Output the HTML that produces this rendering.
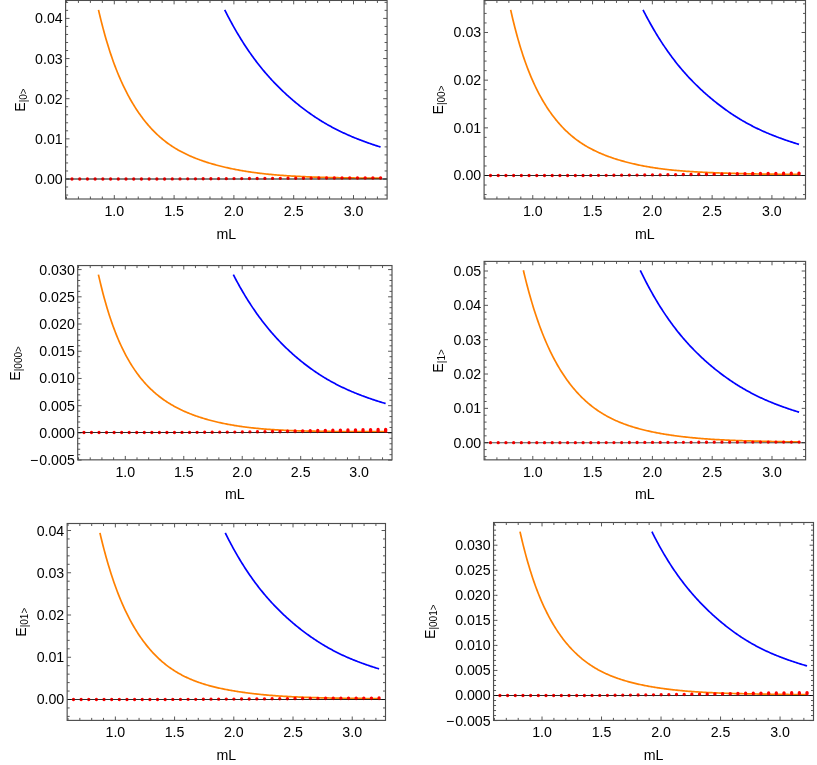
<!DOCTYPE html>
<html><head><meta charset="utf-8"><title>plots</title>
<style>
html,body{margin:0;padding:0;background:#fff;}
body{width:817px;height:765px;overflow:hidden;}
svg{display:block;will-change:transform;}
text{font-family:"Liberation Sans",sans-serif;fill:#000;}
</style></head><body>
<svg width="817" height="765" viewBox="0 0 817 765">

<g>
<path d="M66.46 199v-2.5M66.46 0.45v2.5M78.42 199v-2.5M78.42 0.45v2.5M90.38 199v-2.5M90.38 0.45v2.5M102.34 199v-2.5M102.34 0.45v2.5M114.3 199v-3.9M114.3 0.45v3.9M126.26 199v-2.5M126.26 0.45v2.5M138.22 199v-2.5M138.22 0.45v2.5M150.18 199v-2.5M150.18 0.45v2.5M162.14 199v-2.5M162.14 0.45v2.5M174.1 199v-3.9M174.1 0.45v3.9M186.06 199v-2.5M186.06 0.45v2.5M198.02 199v-2.5M198.02 0.45v2.5M209.98 199v-2.5M209.98 0.45v2.5M221.94 199v-2.5M221.94 0.45v2.5M233.9 199v-3.9M233.9 0.45v3.9M245.86 199v-2.5M245.86 0.45v2.5M257.82 199v-2.5M257.82 0.45v2.5M269.78 199v-2.5M269.78 0.45v2.5M281.74 199v-2.5M281.74 0.45v2.5M293.7 199v-3.9M293.7 0.45v3.9M305.66 199v-2.5M305.66 0.45v2.5M317.62 199v-2.5M317.62 0.45v2.5M329.58 199v-2.5M329.58 0.45v2.5M341.54 199v-2.5M341.54 0.45v2.5M353.5 199v-3.9M353.5 0.45v3.9M365.46 199v-2.5M365.46 0.45v2.5M377.42 199v-2.5M377.42 0.45v2.5M65.6 195.06h2.5M387.1 195.06h-2.5M65.6 187.03h2.5M387.1 187.03h-2.5M65.6 179h3.9M387.1 179h-3.9M65.6 170.97h2.5M387.1 170.97h-2.5M65.6 162.94h2.5M387.1 162.94h-2.5M65.6 154.91h2.5M387.1 154.91h-2.5M65.6 146.88h2.5M387.1 146.88h-2.5M65.6 138.85h3.9M387.1 138.85h-3.9M65.6 130.82h2.5M387.1 130.82h-2.5M65.6 122.79h2.5M387.1 122.79h-2.5M65.6 114.76h2.5M387.1 114.76h-2.5M65.6 106.73h2.5M387.1 106.73h-2.5M65.6 98.7h3.9M387.1 98.7h-3.9M65.6 90.67h2.5M387.1 90.67h-2.5M65.6 82.64h2.5M387.1 82.64h-2.5M65.6 74.61h2.5M387.1 74.61h-2.5M65.6 66.58h2.5M387.1 66.58h-2.5M65.6 58.55h3.9M387.1 58.55h-3.9M65.6 50.52h2.5M387.1 50.52h-2.5M65.6 42.49h2.5M387.1 42.49h-2.5M65.6 34.46h2.5M387.1 34.46h-2.5M65.6 26.43h2.5M387.1 26.43h-2.5M65.6 18.4h3.9M387.1 18.4h-3.9M65.6 10.37h2.5M387.1 10.37h-2.5M65.6 2.34h2.5M387.1 2.34h-2.5" stroke="#444" stroke-width="0.9" fill="none"/>
<path d="M98.5 9.85 99 12.08 100 16.28 101 20.36 102 24.3 103 28.13 104 31.84 105 35.44 106 38.93 107 42.31 108 45.6 109 48.79 110 51.89 111 54.89 112 57.82 113 60.66 114 63.42 115 66.1 116 68.71 117 71.24 118 73.71 119 76.11 120 78.45 121 80.72 122 82.94 123 85.09 124 87.19 125 89.24 126 91.24 127 93.18 128 95.08 129 96.93 130 98.73 131 100.49 132 102.21 133 103.89 134 105.52 135 107.12 136 108.69 137 110.21 138 111.7 139 113.16 140 114.58 141 115.97 142 117.33 143 118.65 144 119.95 145 121.22 146 122.45 147 123.66 148 124.85 149 126 150 127.13 151 128.23 152 129.31 153 130.36 154 131.38 155 132.39 156 133.36 157 134.32 158 135.25 159 136.16 160 137.05 161 137.92 162 138.77 163 139.59 164 140.4 165 141.19 166 141.96 167 142.71 168 143.44 169 144.16 170 144.86 171 145.54 172 146.2 173 146.86 174 147.49 175 148.11 176 148.72 177 149.31 178 149.89 179 150.46 180 151.02 181 151.56 182 152.09 183 152.61 184 153.11 185 153.61 186 154.1 187 154.57 188 155.04 189 155.49 190 155.94 191 156.38 192 156.81 193 157.23 194 157.64 195 158.04 196 158.44 197 158.82 198 159.2 199 159.58 200 159.94 201 160.3 202 160.65 203 161 204 161.34 205 161.67 206 162 207 162.32 208 162.63 209 162.94 210 163.25 211 163.54 212 163.84 213 164.13 214 164.41 215 164.69 216 164.96 217 165.23 218 165.5 219 165.76 220 166.01 221 166.26 222 166.51 223 166.75 224 166.99 225 167.23 226 167.46 227 167.69 228 167.91 229 168.13 230 168.35 231 168.56 232 168.77 233 168.97 234 169.17 235 169.37 236 169.57 237 169.76 238 169.95 239 170.13 240 170.31 241 170.49 242 170.66 243 170.83 244 171 245 171.17 246 171.33 247 171.49 248 171.64 249 171.8 250 171.94 251 172.09 252 172.24 253 172.38 254 172.52 255 172.65 256 172.78 257 172.91 258 173.04 259 173.17 260 173.29 261 173.41 262 173.53 263 173.64 264 173.75 265 173.86 266 173.97 267 174.08 268 174.18 269 174.28 270 174.38 271 174.47 272 174.57 273 174.66 274 174.75 275 174.84 276 174.92 277 175.01 278 175.09 279 175.17 280 175.24 281 175.32 282 175.39 283 175.47 284 175.54 285 175.61 286 175.67 287 175.74 288 175.8 289 175.87 290 175.93 291 175.99 292 176.05 293 176.1 294 176.16 295 176.22 296 176.27 297 176.32 298 176.37 299 176.42 300 176.47 301 176.52 302 176.57 303 176.61 304 176.66 305 176.7 306 176.75 307 176.79 308 176.83 309 176.87 310 176.91 311 176.95 312 176.99 313 177.02 314 177.06 315 177.09 316 177.13 317 177.16 318 177.2 319 177.23 320 177.26 321 177.29 322 177.32 323 177.35 324 177.38 325 177.41 326 177.44 327 177.46 328 177.49 329 177.52 330 177.54 331 177.57 332 177.59 333 177.62 334 177.64 335 177.66 336 177.68 337 177.7 338 177.72 339 177.74 340 177.76 341 177.78 342 177.8 343 177.82 344 177.84 345 177.85 346 177.87 347 177.88 348 177.9 349 177.91 350 177.93 351 177.94 352 177.95 353 177.96 354 177.97 355 177.98 356 177.99 357 178 358 178.01 359 178.02 360 178.02 361 178.03 362 178.04 363 178.04 364 178.05 365 178.05 366 178.06 367 178.06 368 178.06 369 178.07 370 178.07 371 178.07 372 178.08 373 178.08 374 178.08 375 178.08 376 178.09 377 178.09 378 178.09 379 178.1 380 178.1 380.6 178.1" stroke="#ff8000" stroke-width="1.7" fill="none" stroke-linejoin="round"/>
<path d="M224.71 9.85 226 12.44 227 14.39 228 16.32 229 18.22 230 20.1 231 21.95 232 23.78 233 25.58 234 27.36 235 29.12 236 30.85 237 32.56 238 34.25 239 35.92 240 37.56 241 39.19 242 40.79 243 42.37 244 43.93 245 45.47 246 46.99 247 48.49 248 49.97 249 51.43 250 52.87 251 54.29 252 55.7 253 57.08 254 58.45 255 59.8 256 61.13 257 62.44 258 63.73 259 65.01 260 66.27 261 67.52 262 68.75 263 69.96 264 71.16 265 72.34 266 73.51 267 74.66 268 75.8 269 76.92 270 78.03 271 79.13 272 80.21 273 81.28 274 82.33 275 83.38 276 84.41 277 85.43 278 86.44 279 87.43 280 88.42 281 89.39 282 90.36 283 91.31 284 92.25 285 93.19 286 94.11 287 95.02 288 95.92 289 96.82 290 97.7 291 98.57 292 99.44 293 100.29 294 101.14 295 101.98 296 102.81 297 103.63 298 104.44 299 105.24 300 106.04 301 106.83 302 107.6 303 108.37 304 109.13 305 109.89 306 110.63 307 111.36 308 112.09 309 112.81 310 113.52 311 114.22 312 114.92 313 115.6 314 116.28 315 116.95 316 117.61 317 118.26 318 118.91 319 119.55 320 120.18 321 120.8 322 121.41 323 122.02 324 122.62 325 123.21 326 123.79 327 124.37 328 124.94 329 125.5 330 126.06 331 126.61 332 127.15 333 127.68 334 128.21 335 128.73 336 129.24 337 129.75 338 130.26 339 130.75 340 131.24 341 131.72 342 132.2 343 132.67 344 133.14 345 133.6 346 134.06 347 134.51 348 134.95 349 135.39 350 135.82 351 136.25 352 136.68 353 137.1 354 137.51 355 137.92 356 138.32 357 138.73 358 139.12 359 139.51 360 139.9 361 140.28 362 140.66 363 141.04 364 141.41 365 141.78 366 142.14 367 142.5 368 142.86 369 143.21 370 143.56 371 143.91 372 144.25 373 144.59 374 144.92 375 145.25 376 145.58 377 145.91 378 146.23 379 146.55 380 146.86 380.6 147.05" stroke="#0000ff" stroke-width="1.7" fill="none" stroke-linejoin="round"/>
<path d="M65.6 179H387.1" stroke="#000" stroke-opacity="0.72" stroke-width="1.1" fill="none"/>
<path d="M72 179v-0.01M79.72 179v-0.01M87.43 179v-0.01M95.14 179v-0.01M102.86 179v-0.01M110.58 179v-0.01M118.29 179v-0.01M126 179v-0.01M133.72 179v-0.01M141.44 179v-0.01M149.15 179v-0.01M156.87 179v-0.01M164.58 178.98v-0.01M172.3 178.94v-0.01M180.01 178.9v-0.01M187.72 178.86v-0.01M195.44 178.82v-0.01M203.16 178.78v-0.01M210.87 178.74v-0.01M218.59 178.69v-0.01M226.3 178.65v-0.01M234.01 178.61v-0.01M241.73 178.57v-0.02M249.44 178.53v-0.03M257.16 178.49v-0.04M264.88 178.45v-0.06M272.59 178.4v-0.07M280.31 178.36v-0.08M288.02 178.32v-0.1M295.74 178.28v-0.11M303.45 178.24v-0.13M311.16 178.2v-0.14M318.88 178.16v-0.16M326.6 178.11v-0.17M334.31 178.1v-0.19M342.02 178.1v-0.21M349.74 178.1v-0.23M357.45 178.1v-0.24M365.17 178.1v-0.26M372.88 178.1v-0.28M380.6 178.1v-0.3" stroke="#ff0000" stroke-width="3.3" stroke-linecap="round" fill="none"/>
<path d="M65.6 179H387.1" stroke="#000" stroke-opacity="0.4" stroke-width="1.1" fill="none"/>
<rect x="65.6" y="0.45" width="321.5" height="198.55" fill="none" stroke="#4d4d4d" stroke-width="1.15"/>
<text x="62.7" y="184" font-size="14.2" text-anchor="end">0.00</text>
<text x="62.7" y="144" font-size="14.2" text-anchor="end">0.01</text>
<text x="62.7" y="104" font-size="14.2" text-anchor="end">0.02</text>
<text x="62.7" y="64" font-size="14.2" text-anchor="end">0.03</text>
<text x="62.7" y="23" font-size="14.2" text-anchor="end">0.04</text>
<text x="114.3" y="215.7" font-size="14.2" text-anchor="middle">1.0</text>
<text x="174.1" y="215.7" font-size="14.2" text-anchor="middle">1.5</text>
<text x="233.9" y="215.7" font-size="14.2" text-anchor="middle">2.0</text>
<text x="293.7" y="215.7" font-size="14.2" text-anchor="middle">2.5</text>
<text x="353.5" y="215.7" font-size="14.2" text-anchor="middle">3.0</text>
<text x="226.35" y="238.6" font-size="14.2" text-anchor="middle">mL</text>
<g transform="translate(24.67 100.02) rotate(-90)"><text x="-11.74" y="0" font-size="14.2">E<tspan font-size="10" dy="1.9">|0&gt;</tspan></text></g>
</g>
<g>
<path d="M484.96 199v-2.5M484.96 0.45v2.5M496.92 199v-2.5M496.92 0.45v2.5M508.87 199v-2.5M508.87 0.45v2.5M520.83 199v-2.5M520.83 0.45v2.5M532.78 199v-3.9M532.78 0.45v3.9M544.74 199v-2.5M544.74 0.45v2.5M556.7 199v-2.5M556.7 0.45v2.5M568.65 199v-2.5M568.65 0.45v2.5M580.61 199v-2.5M580.61 0.45v2.5M592.57 199v-3.9M592.57 0.45v3.9M604.52 199v-2.5M604.52 0.45v2.5M616.48 199v-2.5M616.48 0.45v2.5M628.44 199v-2.5M628.44 0.45v2.5M640.39 199v-2.5M640.39 0.45v2.5M652.35 199v-3.9M652.35 0.45v3.9M664.3 199v-2.5M664.3 0.45v2.5M676.26 199v-2.5M676.26 0.45v2.5M688.22 199v-2.5M688.22 0.45v2.5M700.17 199v-2.5M700.17 0.45v2.5M712.13 199v-3.9M712.13 0.45v3.9M724.09 199v-2.5M724.09 0.45v2.5M736.04 199v-2.5M736.04 0.45v2.5M748 199v-2.5M748 0.45v2.5M759.95 199v-2.5M759.95 0.45v2.5M771.91 199v-3.9M771.91 0.45v3.9M783.87 199v-2.5M783.87 0.45v2.5M795.82 199v-2.5M795.82 0.45v2.5M484.1 194.57h2.5M805.5 194.57h-2.5M484.1 185.03h2.5M805.5 185.03h-2.5M484.1 175.5h3.9M805.5 175.5h-3.9M484.1 165.97h2.5M805.5 165.97h-2.5M484.1 156.43h2.5M805.5 156.43h-2.5M484.1 146.9h2.5M805.5 146.9h-2.5M484.1 137.36h2.5M805.5 137.36h-2.5M484.1 127.83h3.9M805.5 127.83h-3.9M484.1 118.3h2.5M805.5 118.3h-2.5M484.1 108.76h2.5M805.5 108.76h-2.5M484.1 99.23h2.5M805.5 99.23h-2.5M484.1 89.69h2.5M805.5 89.69h-2.5M484.1 80.16h3.9M805.5 80.16h-3.9M484.1 70.63h2.5M805.5 70.63h-2.5M484.1 61.09h2.5M805.5 61.09h-2.5M484.1 51.56h2.5M805.5 51.56h-2.5M484.1 42.02h2.5M805.5 42.02h-2.5M484.1 32.49h3.9M805.5 32.49h-3.9M484.1 22.96h2.5M805.5 22.96h-2.5M484.1 13.42h2.5M805.5 13.42h-2.5M484.1 3.89h2.5M805.5 3.89h-2.5" stroke="#444" stroke-width="0.9" fill="none"/>
<path d="M510.66 9.85 511 11.41 512 15.77 513 19.99 514 24.07 515 28.02 516 31.84 517 35.54 518 39.12 519 42.58 520 45.94 521 49.19 522 52.35 523 55.4 524 58.37 525 61.24 526 64.03 527 66.74 528 69.37 529 71.91 530 74.39 531 76.8 532 79.13 533 81.4 534 83.61 535 85.76 536 87.84 537 89.87 538 91.85 539 93.77 540 95.64 541 97.46 542 99.23 543 100.96 544 102.65 545 104.29 546 105.88 547 107.44 548 108.96 549 110.44 550 111.89 551 113.3 552 114.67 553 116.01 554 117.32 555 118.6 556 119.85 557 121.06 558 122.25 559 123.41 560 124.54 561 125.64 562 126.72 563 127.77 564 128.79 565 129.79 566 130.77 567 131.72 568 132.65 569 133.56 570 134.44 571 135.31 572 136.15 573 136.97 574 137.78 575 138.56 576 139.32 577 140.07 578 140.8 579 141.51 580 142.2 581 142.88 582 143.54 583 144.19 584 144.82 585 145.43 586 146.03 587 146.62 588 147.19 589 147.75 590 148.3 591 148.84 592 149.36 593 149.87 594 150.37 595 150.86 596 151.34 597 151.81 598 152.26 599 152.71 600 153.15 601 153.58 602 154 603 154.41 604 154.81 605 155.2 606 155.59 607 155.97 608 156.34 609 156.71 610 157.06 611 157.41 612 157.76 613 158.09 614 158.43 615 158.75 616 159.07 617 159.38 618 159.69 619 159.99 620 160.29 621 160.58 622 160.87 623 161.15 624 161.43 625 161.7 626 161.97 627 162.23 628 162.49 629 162.75 630 162.99 631 163.24 632 163.48 633 163.72 634 163.95 635 164.18 636 164.4 637 164.62 638 164.84 639 165.05 640 165.26 641 165.46 642 165.66 643 165.85 644 166.05 645 166.24 646 166.42 647 166.6 648 166.78 649 166.95 650 167.12 651 167.29 652 167.45 653 167.61 654 167.77 655 167.92 656 168.07 657 168.21 658 168.36 659 168.49 660 168.63 661 168.76 662 168.89 663 169.02 664 169.14 665 169.26 666 169.38 667 169.5 668 169.61 669 169.72 670 169.82 671 169.93 672 170.03 673 170.13 674 170.23 675 170.32 676 170.41 677 170.5 678 170.59 679 170.68 680 170.76 681 170.84 682 170.92 683 171 684 171.08 685 171.15 686 171.23 687 171.3 688 171.37 689 171.44 690 171.5 691 171.57 692 171.63 693 171.7 694 171.76 695 171.82 696 171.88 697 171.94 698 171.99 699 172.05 700 172.1 701 172.16 702 172.21 703 172.26 704 172.31 705 172.36 706 172.41 707 172.45 708 172.5 709 172.54 710 172.59 711 172.63 712 172.67 713 172.72 714 172.76 715 172.8 716 172.84 717 172.87 718 172.91 719 172.95 720 172.99 721 173.02 722 173.06 723 173.09 724 173.13 725 173.16 726 173.19 727 173.22 728 173.26 729 173.29 730 173.32 731 173.35 732 173.38 733 173.41 734 173.44 735 173.47 736 173.49 737 173.52 738 173.55 739 173.57 740 173.6 741 173.63 742 173.65 743 173.68 744 173.7 745 173.73 746 173.75 747 173.77 748 173.8 749 173.82 750 173.84 751 173.86 752 173.88 753 173.91 754 173.93 755 173.95 756 173.97 757 173.98 758 174 759 174.02 760 174.04 761 174.06 762 174.07 763 174.09 764 174.1 765 174.12 766 174.13 767 174.14 768 174.16 769 174.17 770 174.18 771 174.19 772 174.2 773 174.21 774 174.21 775 174.22 776 174.23 777 174.23 778 174.24 779 174.24 780 174.25 781 174.25 782 174.26 783 174.26 784 174.26 785 174.27 786 174.27 787 174.27 788 174.28 789 174.28 790 174.28 791 174.29 792 174.29 793 174.29 794 174.3 795 174.3 796 174.31 797 174.31 798 174.32 799 174.32 799 174.32" stroke="#ff8000" stroke-width="1.7" fill="none" stroke-linejoin="round"/>
<path d="M643.05 9.85 644 11.76 645 13.69 646 15.6 647 17.48 648 19.34 649 21.17 650 22.98 651 24.76 652 26.52 653 28.26 654 29.97 655 31.66 656 33.33 657 34.98 658 36.6 659 38.2 660 39.78 661 41.35 662 42.89 663 44.41 664 45.9 665 47.38 666 48.84 667 50.28 668 51.71 669 53.11 670 54.49 671 55.86 672 57.2 673 58.53 674 59.84 675 61.14 676 62.41 677 63.67 678 64.91 679 66.14 680 67.35 681 68.54 682 69.72 683 70.88 684 72.03 685 73.16 686 74.28 687 75.39 688 76.48 689 77.56 690 78.62 691 79.67 692 80.71 693 81.73 694 82.75 695 83.75 696 84.74 697 85.72 698 86.69 699 87.64 700 88.59 701 89.53 702 90.45 703 91.37 704 92.27 705 93.17 706 94.05 707 94.93 708 95.8 709 96.66 710 97.51 711 98.35 712 99.18 713 100.01 714 100.82 715 101.63 716 102.43 717 103.22 718 104 719 104.78 720 105.54 721 106.3 722 107.05 723 107.79 724 108.53 725 109.25 726 109.97 727 110.68 728 111.38 729 112.08 730 112.76 731 113.44 732 114.11 733 114.77 734 115.43 735 116.07 736 116.71 737 117.34 738 117.96 739 118.58 740 119.18 741 119.78 742 120.37 743 120.96 744 121.54 745 122.1 746 122.67 747 123.22 748 123.77 749 124.31 750 124.84 751 125.37 752 125.88 753 126.4 754 126.9 755 127.4 756 127.89 757 128.38 758 128.86 759 129.33 760 129.8 761 130.26 762 130.72 763 131.17 764 131.61 765 132.05 766 132.48 767 132.91 768 133.33 769 133.75 770 134.17 771 134.57 772 134.98 773 135.38 774 135.77 775 136.16 776 136.54 777 136.93 778 137.3 779 137.68 780 138.04 781 138.41 782 138.77 783 139.13 784 139.48 785 139.83 786 140.18 787 140.52 788 140.86 789 141.2 790 141.53 791 141.86 792 142.18 793 142.51 794 142.83 795 143.14 796 143.46 797 143.77 798 144.07 799 144.38 799 144.38" stroke="#0000ff" stroke-width="1.7" fill="none" stroke-linejoin="round"/>
<path d="M484.1 175.5H805.5" stroke="#000" stroke-opacity="0.72" stroke-width="1.1" fill="none"/>
<path d="M490.5 175.5v-0.01M498.21 175.5v-0.01M505.92 175.5v-0.01M513.64 175.5v-0.01M521.35 175.5v-0.01M529.06 175.5v-0.01M536.77 175.5v-0.01M544.49 175.5v-0.01M552.2 175.5v-0.01M559.91 175.5v-0.01M567.62 175.5v-0.01M575.34 175.5v-0.01M583.05 175.48v-0.01M590.76 175.42v-0.01M598.47 175.36v-0.01M606.19 175.3v-0.01M613.9 175.24v-0.01M621.61 175.18v-0.01M629.32 175.12v-0.01M637.04 175.06v-0.01M644.75 175v-0.01M652.46 174.94v-0.04M660.18 174.88v-0.08M667.89 174.82v-0.11M675.6 174.76v-0.16M683.31 174.7v-0.2M691.03 174.64v-0.25M698.74 174.58v-0.3M706.45 174.52v-0.35M714.16 174.46v-0.41M721.88 174.4v-0.46M729.59 174.34v-0.52M737.3 174.28v-0.58M745.01 174.22v-0.64M752.73 174.2v-0.7M760.44 174.2v-0.77M768.15 174.2v-0.83M775.86 174.2v-0.9M783.58 174.2v-0.96M791.29 174.2v-1.03M799 174.2v-1.1" stroke="#ff0000" stroke-width="3.3" stroke-linecap="round" fill="none"/>
<path d="M484.1 175.5H805.5" stroke="#000" stroke-opacity="0.4" stroke-width="1.1" fill="none"/>
<rect x="484.1" y="0.45" width="321.4" height="198.55" fill="none" stroke="#4d4d4d" stroke-width="1.15"/>
<text x="481.2" y="180" font-size="14.2" text-anchor="end">0.00</text>
<text x="481.2" y="133" font-size="14.2" text-anchor="end">0.01</text>
<text x="481.2" y="85" font-size="14.2" text-anchor="end">0.02</text>
<text x="481.2" y="37" font-size="14.2" text-anchor="end">0.03</text>
<text x="532.78" y="215.7" font-size="14.2" text-anchor="middle">1.0</text>
<text x="592.57" y="215.7" font-size="14.2" text-anchor="middle">1.5</text>
<text x="652.35" y="215.7" font-size="14.2" text-anchor="middle">2.0</text>
<text x="712.13" y="215.7" font-size="14.2" text-anchor="middle">2.5</text>
<text x="771.91" y="215.7" font-size="14.2" text-anchor="middle">3.0</text>
<text x="644.8" y="238.6" font-size="14.2" text-anchor="middle">mL</text>
<g transform="translate(443.17 100.02) rotate(-90)"><text x="-14.52" y="0" font-size="14.2">E<tspan font-size="10" dy="1.9">|00&gt;</tspan></text></g>
</g>
<g>
<path d="M78.54 459.85v-2.5M78.54 265.55v2.5M90.23 459.85v-2.5M90.23 265.55v2.5M101.93 459.85v-2.5M101.93 265.55v2.5M113.62 459.85v-2.5M113.62 265.55v2.5M125.31 459.85v-3.9M125.31 265.55v3.9M137 459.85v-2.5M137 265.55v2.5M148.69 459.85v-2.5M148.69 265.55v2.5M160.39 459.85v-2.5M160.39 265.55v2.5M172.08 459.85v-2.5M172.08 265.55v2.5M183.77 459.85v-3.9M183.77 265.55v3.9M195.46 459.85v-2.5M195.46 265.55v2.5M207.15 459.85v-2.5M207.15 265.55v2.5M218.85 459.85v-2.5M218.85 265.55v2.5M230.54 459.85v-2.5M230.54 265.55v2.5M242.23 459.85v-3.9M242.23 265.55v3.9M253.92 459.85v-2.5M253.92 265.55v2.5M265.62 459.85v-2.5M265.62 265.55v2.5M277.31 459.85v-2.5M277.31 265.55v2.5M289 459.85v-2.5M289 265.55v2.5M300.69 459.85v-3.9M300.69 265.55v3.9M312.38 459.85v-2.5M312.38 265.55v2.5M324.08 459.85v-2.5M324.08 265.55v2.5M335.77 459.85v-2.5M335.77 265.55v2.5M347.46 459.85v-2.5M347.46 265.55v2.5M359.15 459.85v-3.9M359.15 265.55v3.9M370.84 459.85v-2.5M370.84 265.55v2.5M382.54 459.85v-2.5M382.54 265.55v2.5M77.7 460.12h3.9M392 460.12h-3.9M77.7 454.68h2.5M392 454.68h-2.5M77.7 449.23h2.5M392 449.23h-2.5M77.7 443.79h2.5M392 443.79h-2.5M77.7 438.34h2.5M392 438.34h-2.5M77.7 432.9h3.9M392 432.9h-3.9M77.7 427.46h2.5M392 427.46h-2.5M77.7 422.01h2.5M392 422.01h-2.5M77.7 416.57h2.5M392 416.57h-2.5M77.7 411.12h2.5M392 411.12h-2.5M77.7 405.68h3.9M392 405.68h-3.9M77.7 400.24h2.5M392 400.24h-2.5M77.7 394.79h2.5M392 394.79h-2.5M77.7 389.35h2.5M392 389.35h-2.5M77.7 383.9h2.5M392 383.9h-2.5M77.7 378.46h3.9M392 378.46h-3.9M77.7 373.02h2.5M392 373.02h-2.5M77.7 367.57h2.5M392 367.57h-2.5M77.7 362.13h2.5M392 362.13h-2.5M77.7 356.68h2.5M392 356.68h-2.5M77.7 351.24h3.9M392 351.24h-3.9M77.7 345.8h2.5M392 345.8h-2.5M77.7 340.35h2.5M392 340.35h-2.5M77.7 334.91h2.5M392 334.91h-2.5M77.7 329.46h2.5M392 329.46h-2.5M77.7 324.02h3.9M392 324.02h-3.9M77.7 318.58h2.5M392 318.58h-2.5M77.7 313.13h2.5M392 313.13h-2.5M77.7 307.69h2.5M392 307.69h-2.5M77.7 302.24h2.5M392 302.24h-2.5M77.7 296.8h3.9M392 296.8h-3.9M77.7 291.36h2.5M392 291.36h-2.5M77.7 285.91h2.5M392 285.91h-2.5M77.7 280.47h2.5M392 280.47h-2.5M77.7 275.02h2.5M392 275.02h-2.5M77.7 269.58h3.9M392 269.58h-3.9" stroke="#444" stroke-width="0.9" fill="none"/>
<path d="M98.4 274.6 99 277.09 100 281.39 101 285.55 102 289.57 103 293.45 104 297.2 105 300.83 106 304.34 107 307.73 108 311.01 109 314.19 110 317.27 111 320.26 112 323.14 113 325.94 114 328.66 115 331.29 116 333.84 117 336.31 118 338.71 119 341.04 120 343.29 121 345.49 122 347.61 123 349.68 124 351.69 125 353.64 126 355.53 127 357.37 128 359.16 129 360.9 130 362.59 131 364.23 132 365.83 133 367.38 134 368.89 135 370.37 136 371.8 137 373.19 138 374.55 139 375.87 140 377.15 141 378.41 142 379.63 143 380.81 144 381.97 145 383.1 146 384.2 147 385.27 148 386.32 149 387.34 150 388.33 151 389.3 152 390.24 153 391.16 154 392.06 155 392.94 156 393.79 157 394.63 158 395.44 159 396.24 160 397.02 161 397.78 162 398.52 163 399.24 164 399.94 165 400.63 166 401.31 167 401.97 168 402.61 169 403.24 170 403.85 171 404.45 172 405.04 173 405.61 174 406.17 175 406.72 176 407.26 177 407.78 178 408.3 179 408.8 180 409.29 181 409.78 182 410.25 183 410.71 184 411.16 185 411.61 186 412.04 187 412.46 188 412.88 189 413.29 190 413.69 191 414.08 192 414.47 193 414.84 194 415.21 195 415.58 196 415.93 197 416.28 198 416.62 199 416.96 200 417.29 201 417.61 202 417.93 203 418.24 204 418.54 205 418.84 206 419.14 207 419.42 208 419.71 209 419.98 210 420.25 211 420.52 212 420.78 213 421.04 214 421.29 215 421.53 216 421.77 217 422.01 218 422.24 219 422.47 220 422.69 221 422.91 222 423.12 223 423.33 224 423.53 225 423.73 226 423.93 227 424.12 228 424.31 229 424.5 230 424.68 231 424.86 232 425.03 233 425.2 234 425.37 235 425.54 236 425.7 237 425.85 238 426.01 239 426.16 240 426.31 241 426.45 242 426.59 243 426.73 244 426.87 245 427 246 427.13 247 427.26 248 427.38 249 427.5 250 427.62 251 427.74 252 427.85 253 427.96 254 428.07 255 428.17 256 428.27 257 428.37 258 428.47 259 428.57 260 428.66 261 428.75 262 428.84 263 428.92 264 429.01 265 429.09 266 429.17 267 429.24 268 429.32 269 429.39 270 429.46 271 429.53 272 429.6 273 429.66 274 429.72 275 429.78 276 429.84 277 429.9 278 429.96 279 430.01 280 430.07 281 430.12 282 430.17 283 430.22 284 430.26 285 430.31 286 430.35 287 430.4 288 430.44 289 430.48 290 430.52 291 430.56 292 430.59 293 430.63 294 430.66 295 430.7 296 430.73 297 430.76 298 430.79 299 430.82 300 430.85 301 430.88 302 430.91 303 430.94 304 430.96 305 430.99 306 431.01 307 431.04 308 431.06 309 431.08 310 431.11 311 431.13 312 431.15 313 431.17 314 431.19 315 431.21 316 431.23 317 431.25 318 431.27 319 431.29 320 431.3 321 431.32 322 431.34 323 431.35 324 431.37 325 431.39 326 431.4 327 431.42 328 431.43 329 431.45 330 431.46 331 431.48 332 431.49 333 431.5 334 431.52 335 431.53 336 431.54 337 431.56 338 431.57 339 431.58 340 431.59 341 431.6 342 431.61 343 431.62 344 431.63 345 431.64 346 431.65 347 431.66 348 431.67 349 431.67 350 431.68 351 431.69 352 431.69 353 431.7 354 431.7 355 431.7 356 431.71 357 431.71 358 431.71 359 431.71 360 431.71 361 431.71 362 431.71 363 431.7 364 431.7 365 431.7 366 431.69 367 431.69 368 431.69 369 431.68 370 431.68 371 431.68 372 431.67 373 431.67 374 431.67 375 431.67 376 431.67 377 431.66 378 431.66 379 431.66 380 431.66 381 431.67 382 431.67 383 431.67 384 431.67 385 431.67 385.65 431.67" stroke="#ff8000" stroke-width="1.7" fill="none" stroke-linejoin="round"/>
<path d="M233.33 274.6 234 275.95 235 277.86 236 279.75 237 281.61 238 283.44 239 285.25 240 287.04 241 288.79 242 290.53 243 292.24 244 293.93 245 295.59 246 297.23 247 298.85 248 300.45 249 302.03 250 303.58 251 305.11 252 306.63 253 308.12 254 309.59 255 311.04 256 312.48 257 313.89 258 315.29 259 316.66 260 318.02 261 319.36 262 320.69 263 321.99 264 323.28 265 324.55 266 325.81 267 327.05 268 328.27 269 329.48 270 330.67 271 331.84 272 333 273 334.15 274 335.28 275 336.39 276 337.49 277 338.58 278 339.66 279 340.72 280 341.76 281 342.8 282 343.82 283 344.83 284 345.83 285 346.81 286 347.78 287 348.75 288 349.69 289 350.63 290 351.56 291 352.48 292 353.38 293 354.28 294 355.16 295 356.03 296 356.9 297 357.75 298 358.6 299 359.43 300 360.25 301 361.07 302 361.87 303 362.67 304 363.46 305 364.24 306 365 307 365.76 308 366.51 309 367.26 310 367.99 311 368.71 312 369.43 313 370.14 314 370.84 315 371.52 316 372.21 317 372.88 318 373.54 319 374.2 320 374.85 321 375.49 322 376.12 323 376.74 324 377.36 325 377.96 326 378.56 327 379.15 328 379.74 329 380.31 330 380.88 331 381.44 332 382 333 382.54 334 383.08 335 383.62 336 384.14 337 384.66 338 385.17 339 385.67 340 386.17 341 386.66 342 387.15 343 387.63 344 388.1 345 388.57 346 389.03 347 389.48 348 389.93 349 390.38 350 390.81 351 391.25 352 391.67 353 392.09 354 392.51 355 392.92 356 393.33 357 393.73 358 394.13 359 394.52 360 394.91 361 395.29 362 395.67 363 396.05 364 396.42 365 396.79 366 397.15 367 397.51 368 397.86 369 398.21 370 398.56 371 398.91 372 399.25 373 399.58 374 399.91 375 400.24 376 400.57 377 400.89 378 401.21 379 401.53 380 401.84 381 402.15 382 402.46 383 402.76 384 403.06 385 403.36 385.65 403.55" stroke="#0000ff" stroke-width="1.7" fill="none" stroke-linejoin="round"/>
<path d="M77.7 432.5H392" stroke="#000" stroke-opacity="0.72" stroke-width="1.1" fill="none"/>
<path d="M83.96 432.5v-0.01M91.5 432.5v-0.01M99.04 432.5v-0.01M106.58 432.5v-0.01M114.13 432.5v-0.01M121.67 432.5v-0.01M129.21 432.5v-0.01M136.75 432.5v-0.01M144.29 432.5v-0.01M151.84 432.5v-0.01M159.38 432.5v-0.01M166.92 432.5v-0.01M174.46 432.48v-0.01M182.01 432.43v-0.01M189.55 432.38v-0.01M197.09 432.33v-0.01M204.63 432.28v-0.01M212.17 432.23v-0.01M219.72 432.18v-0.01M227.26 432.13v-0.01M234.8 432.08v-0.02M242.34 432.03v-0.08M249.89 431.97v-0.14M257.43 431.92v-0.22M264.97 431.87v-0.3M272.51 431.82v-0.39M280.05 431.77v-0.48M287.6 431.72v-0.58M295.14 431.67v-0.68M302.68 431.62v-0.78M310.22 431.57v-0.89M317.77 431.52v-1M325.31 431.47v-1.11M332.85 431.42v-1.22M340.39 431.4v-1.34M347.93 431.4v-1.46M355.48 431.4v-1.59M363.02 431.4v-1.71M370.56 431.4v-1.84M378.1 431.4v-1.97M385.65 431.4v-2.1" stroke="#ff0000" stroke-width="3.3" stroke-linecap="round" fill="none"/>
<path d="M77.7 432.5H392" stroke="#000" stroke-opacity="0.4" stroke-width="1.1" fill="none"/>
<rect x="77.7" y="265.55" width="314.3" height="194.3" fill="none" stroke="#4d4d4d" stroke-width="1.15"/>
<text x="74.8" y="465" font-size="14.2" text-anchor="end">0.005</text>
<text x="38.37" y="465" font-size="14.2" text-anchor="end">−</text>
<text x="74.8" y="438" font-size="14.2" text-anchor="end">0.000</text>
<text x="74.8" y="411" font-size="14.2" text-anchor="end">0.005</text>
<text x="74.8" y="383" font-size="14.2" text-anchor="end">0.010</text>
<text x="74.8" y="356" font-size="14.2" text-anchor="end">0.015</text>
<text x="74.8" y="329" font-size="14.2" text-anchor="end">0.020</text>
<text x="74.8" y="302" font-size="14.2" text-anchor="end">0.025</text>
<text x="74.8" y="275" font-size="14.2" text-anchor="end">0.030</text>
<text x="125.31" y="476.55" font-size="14.2" text-anchor="middle">1.0</text>
<text x="183.77" y="476.55" font-size="14.2" text-anchor="middle">1.5</text>
<text x="242.23" y="476.55" font-size="14.2" text-anchor="middle">2.0</text>
<text x="300.69" y="476.55" font-size="14.2" text-anchor="middle">2.5</text>
<text x="359.15" y="476.55" font-size="14.2" text-anchor="middle">3.0</text>
<text x="234.85" y="499.45" font-size="14.2" text-anchor="middle">mL</text>
<g transform="translate(20.08 363.4) rotate(-90)"><text x="-17.3" y="0" font-size="14.2">E<tspan font-size="10" dy="1.9">|000&gt;</tspan></text></g>
</g>
<g>
<path d="M484.96 459.85v-2.5M484.96 261.4v2.5M496.92 459.85v-2.5M496.92 261.4v2.5M508.88 459.85v-2.5M508.88 261.4v2.5M520.84 459.85v-2.5M520.84 261.4v2.5M532.8 459.85v-3.9M532.8 261.4v3.9M544.76 459.85v-2.5M544.76 261.4v2.5M556.72 459.85v-2.5M556.72 261.4v2.5M568.68 459.85v-2.5M568.68 261.4v2.5M580.64 459.85v-2.5M580.64 261.4v2.5M592.6 459.85v-3.9M592.6 261.4v3.9M604.56 459.85v-2.5M604.56 261.4v2.5M616.52 459.85v-2.5M616.52 261.4v2.5M628.48 459.85v-2.5M628.48 261.4v2.5M640.44 459.85v-2.5M640.44 261.4v2.5M652.4 459.85v-3.9M652.4 261.4v3.9M664.36 459.85v-2.5M664.36 261.4v2.5M676.32 459.85v-2.5M676.32 261.4v2.5M688.28 459.85v-2.5M688.28 261.4v2.5M700.24 459.85v-2.5M700.24 261.4v2.5M712.2 459.85v-3.9M712.2 261.4v3.9M724.16 459.85v-2.5M724.16 261.4v2.5M736.12 459.85v-2.5M736.12 261.4v2.5M748.08 459.85v-2.5M748.08 261.4v2.5M760.04 459.85v-2.5M760.04 261.4v2.5M772 459.85v-3.9M772 261.4v3.9M783.96 459.85v-2.5M783.96 261.4v2.5M795.92 459.85v-2.5M795.92 261.4v2.5M484.1 456.44h2.5M805.6 456.44h-2.5M484.1 449.57h2.5M805.6 449.57h-2.5M484.1 442.7h3.9M805.6 442.7h-3.9M484.1 435.83h2.5M805.6 435.83h-2.5M484.1 428.96h2.5M805.6 428.96h-2.5M484.1 422.1h2.5M805.6 422.1h-2.5M484.1 415.23h2.5M805.6 415.23h-2.5M484.1 408.36h3.9M805.6 408.36h-3.9M484.1 401.49h2.5M805.6 401.49h-2.5M484.1 394.62h2.5M805.6 394.62h-2.5M484.1 387.76h2.5M805.6 387.76h-2.5M484.1 380.89h2.5M805.6 380.89h-2.5M484.1 374.02h3.9M805.6 374.02h-3.9M484.1 367.15h2.5M805.6 367.15h-2.5M484.1 360.28h2.5M805.6 360.28h-2.5M484.1 353.42h2.5M805.6 353.42h-2.5M484.1 346.55h2.5M805.6 346.55h-2.5M484.1 339.68h3.9M805.6 339.68h-3.9M484.1 332.81h2.5M805.6 332.81h-2.5M484.1 325.94h2.5M805.6 325.94h-2.5M484.1 319.08h2.5M805.6 319.08h-2.5M484.1 312.21h2.5M805.6 312.21h-2.5M484.1 305.34h3.9M805.6 305.34h-3.9M484.1 298.47h2.5M805.6 298.47h-2.5M484.1 291.6h2.5M805.6 291.6h-2.5M484.1 284.74h2.5M805.6 284.74h-2.5M484.1 277.87h2.5M805.6 277.87h-2.5M484.1 271h3.9M805.6 271h-3.9M484.1 264.13h2.5M805.6 264.13h-2.5" stroke="#444" stroke-width="0.9" fill="none"/>
<path d="M523.38 270.3 524 273.04 525 277.14 526 281.12 527 285 528 288.77 529 292.44 530 296.02 531 299.49 532 302.88 533 306.18 534 309.39 535 312.51 536 315.55 537 318.52 538 321.4 539 324.22 540 326.95 541 329.62 542 332.22 543 334.76 544 337.23 545 339.63 546 341.98 547 344.26 548 346.49 549 348.67 550 350.79 551 352.85 552 354.87 553 356.84 554 358.76 555 360.63 556 362.46 557 364.24 558 365.98 559 367.68 560 369.34 561 370.96 562 372.54 563 374.08 564 375.59 565 377.06 566 378.5 567 379.91 568 381.28 569 382.63 570 383.94 571 385.22 572 386.47 573 387.7 574 388.89 575 390.06 576 391.21 577 392.32 578 393.42 579 394.48 580 395.53 581 396.54 582 397.54 583 398.51 584 399.46 585 400.39 586 401.3 587 402.18 588 403.05 589 403.9 590 404.72 591 405.53 592 406.32 593 407.09 594 407.84 595 408.57 596 409.29 597 409.99 598 410.68 599 411.35 600 412 601 412.64 602 413.26 603 413.87 604 414.47 605 415.05 606 415.62 607 416.18 608 416.72 609 417.25 610 417.77 611 418.28 612 418.77 613 419.26 614 419.73 615 420.19 616 420.65 617 421.09 618 421.52 619 421.94 620 422.36 621 422.76 622 423.16 623 423.54 624 423.92 625 424.29 626 424.65 627 425.01 628 425.36 629 425.69 630 426.03 631 426.35 632 426.67 633 426.98 634 427.29 635 427.58 636 427.88 637 428.16 638 428.44 639 428.72 640 428.99 641 429.25 642 429.51 643 429.76 644 430.01 645 430.25 646 430.49 647 430.72 648 430.95 649 431.18 650 431.4 651 431.61 652 431.82 653 432.03 654 432.23 655 432.43 656 432.63 657 432.82 658 433.01 659 433.19 660 433.37 661 433.55 662 433.73 663 433.9 664 434.07 665 434.23 666 434.39 667 434.55 668 434.71 669 434.86 670 435.01 671 435.16 672 435.3 673 435.44 674 435.58 675 435.72 676 435.85 677 435.98 678 436.11 679 436.24 680 436.36 681 436.49 682 436.61 683 436.72 684 436.84 685 436.95 686 437.06 687 437.17 688 437.28 689 437.38 690 437.49 691 437.59 692 437.68 693 437.78 694 437.88 695 437.97 696 438.06 697 438.15 698 438.24 699 438.32 700 438.41 701 438.49 702 438.57 703 438.65 704 438.73 705 438.8 706 438.88 707 438.95 708 439.02 709 439.09 710 439.16 711 439.23 712 439.29 713 439.35 714 439.42 715 439.48 716 439.54 717 439.6 718 439.65 719 439.71 720 439.76 721 439.82 722 439.87 723 439.92 724 439.97 725 440.02 726 440.07 727 440.11 728 440.16 729 440.2 730 440.25 731 440.29 732 440.33 733 440.37 734 440.41 735 440.45 736 440.49 737 440.52 738 440.56 739 440.6 740 440.63 741 440.67 742 440.7 743 440.73 744 440.76 745 440.8 746 440.83 747 440.86 748 440.89 749 440.92 750 440.94 751 440.97 752 441 753 441.03 754 441.05 755 441.08 756 441.11 757 441.13 758 441.16 759 441.18 760 441.21 761 441.23 762 441.25 763 441.28 764 441.3 765 441.32 766 441.35 767 441.37 768 441.39 769 441.41 770 441.43 771 441.46 772 441.48 773 441.5 774 441.52 775 441.54 776 441.56 777 441.58 778 441.6 779 441.62 780 441.64 781 441.66 782 441.68 783 441.7 784 441.72 785 441.74 786 441.76 787 441.77 788 441.79 789 441.81 790 441.83 791 441.84 792 441.86 793 441.88 794 441.89 795 441.91 796 441.93 797 441.94 798 441.96 799 441.97 799.1 441.97" stroke="#ff8000" stroke-width="1.7" fill="none" stroke-linejoin="round"/>
<path d="M640.25 270.3 641 271.87 642 273.92 643 275.94 644 277.94 645 279.9 646 281.84 647 283.76 648 285.65 649 287.51 650 289.35 651 291.16 652 292.95 653 294.71 654 296.46 655 298.18 656 299.87 657 301.54 658 303.19 659 304.82 660 306.43 661 308.01 662 309.58 663 311.12 664 312.64 665 314.14 666 315.62 667 317.08 668 318.52 669 319.94 670 321.35 671 322.73 672 324.1 673 325.44 674 326.77 675 328.08 676 329.37 677 330.65 678 331.91 679 333.15 680 334.38 681 335.59 682 336.78 683 337.96 684 339.12 685 340.27 686 341.41 687 342.53 688 343.63 689 344.72 690 345.8 691 346.87 692 347.92 693 348.96 694 349.98 695 351 696 352 697 352.99 698 353.97 699 354.94 700 355.9 701 356.84 702 357.78 703 358.7 704 359.62 705 360.52 706 361.41 707 362.3 708 363.17 709 364.04 710 364.9 711 365.74 712 366.58 713 367.41 714 368.23 715 369.04 716 369.84 717 370.63 718 371.42 719 372.2 720 372.96 721 373.72 722 374.47 723 375.22 724 375.95 725 376.68 726 377.4 727 378.11 728 378.81 729 379.51 730 380.2 731 380.88 732 381.55 733 382.21 734 382.87 735 383.52 736 384.16 737 384.79 738 385.42 739 386.04 740 386.65 741 387.25 742 387.85 743 388.44 744 389.02 745 389.59 746 390.16 747 390.72 748 391.28 749 391.82 750 392.36 751 392.89 752 393.42 753 393.94 754 394.45 755 394.96 756 395.46 757 395.95 758 396.44 759 396.92 760 397.4 761 397.87 762 398.33 763 398.79 764 399.24 765 399.69 766 400.13 767 400.56 768 400.99 769 401.41 770 401.83 771 402.25 772 402.66 773 403.06 774 403.46 775 403.86 776 404.25 777 404.63 778 405.02 779 405.39 780 405.77 781 406.14 782 406.5 783 406.86 784 407.22 785 407.57 786 407.92 787 408.27 788 408.61 789 408.95 790 409.29 791 409.62 792 409.95 793 410.27 794 410.59 795 410.91 796 411.23 797 411.54 798 411.85 799 412.15 799.1 412.18" stroke="#0000ff" stroke-width="1.7" fill="none" stroke-linejoin="round"/>
<path d="M484.1 442.7H805.6" stroke="#000" stroke-opacity="0.62" stroke-width="1.1" fill="none"/>
<path d="M490.5 442.7v-0.01M498.21 442.7v-0.01M505.93 442.7v-0.01M513.64 442.7v-0.01M521.36 442.7v-0.01M529.08 442.7v-0.01M536.79 442.7v-0.01M544.5 442.7v-0.01M552.22 442.7v-0.01M559.93 442.7v-0.01M567.65 442.7v-0.01M575.37 442.7v-0.01M583.08 442.69v-0.01M590.79 442.66v-0.01M598.51 442.63v-0.01M606.23 442.61v-0.01M613.94 442.58v-0.01M621.65 442.55v-0.01M629.37 442.52v-0.01M637.09 442.5v-0.01M644.8 442.47v-0.01M652.51 442.44v-0.01M660.23 442.41v-0.01M667.94 442.39v-0.01M675.66 442.36v-0.01M683.38 442.33v-0.01M691.09 442.3v-0.01M698.81 442.28v-0.01M706.52 442.25v-0.01M714.24 442.22v-0.01M721.95 442.19v-0.01M729.66 442.16v-0.01M737.38 442.14v-0.01M745.1 442.11v-0.01M752.81 442.1v-0.01M760.52 442.1v-0.01M768.24 442.1v-0.01M775.95 442.1v-0.01M783.67 442.1v-0.01M791.38 442.1v-0.01M799.1 442.1v-0.01" stroke="#ff0000" stroke-width="3.3" stroke-linecap="round" fill="none"/>
<path d="M484.1 442.7H805.6" stroke="#000" stroke-opacity="0.15" stroke-width="1.1" fill="none"/>
<rect x="484.1" y="261.4" width="321.5" height="198.45" fill="none" stroke="#4d4d4d" stroke-width="1.15"/>
<text x="481.2" y="448" font-size="14.2" text-anchor="end">0.00</text>
<text x="481.2" y="413" font-size="14.2" text-anchor="end">0.01</text>
<text x="481.2" y="379" font-size="14.2" text-anchor="end">0.02</text>
<text x="481.2" y="345" font-size="14.2" text-anchor="end">0.03</text>
<text x="481.2" y="310" font-size="14.2" text-anchor="end">0.04</text>
<text x="481.2" y="276" font-size="14.2" text-anchor="end">0.05</text>
<text x="532.8" y="476.55" font-size="14.2" text-anchor="middle">1.0</text>
<text x="592.6" y="476.55" font-size="14.2" text-anchor="middle">1.5</text>
<text x="652.4" y="476.55" font-size="14.2" text-anchor="middle">2.0</text>
<text x="712.2" y="476.55" font-size="14.2" text-anchor="middle">2.5</text>
<text x="772" y="476.55" font-size="14.2" text-anchor="middle">3.0</text>
<text x="644.85" y="499.45" font-size="14.2" text-anchor="middle">mL</text>
<g transform="translate(443.17 360.93) rotate(-90)"><text x="-11.74" y="0" font-size="14.2">E<tspan font-size="10" dy="1.9">|1&gt;</tspan></text></g>
</g>
<g>
<path d="M68 720.4v-2.5M68 523.5v2.5M79.84 720.4v-2.5M79.84 523.5v2.5M91.69 720.4v-2.5M91.69 523.5v2.5M103.53 720.4v-2.5M103.53 523.5v2.5M115.37 720.4v-3.9M115.37 523.5v3.9M127.22 720.4v-2.5M127.22 523.5v2.5M139.06 720.4v-2.5M139.06 523.5v2.5M150.9 720.4v-2.5M150.9 523.5v2.5M162.74 720.4v-2.5M162.74 523.5v2.5M174.59 720.4v-3.9M174.59 523.5v3.9M186.43 720.4v-2.5M186.43 523.5v2.5M198.27 720.4v-2.5M198.27 523.5v2.5M210.12 720.4v-2.5M210.12 523.5v2.5M221.96 720.4v-2.5M221.96 523.5v2.5M233.8 720.4v-3.9M233.8 523.5v3.9M245.64 720.4v-2.5M245.64 523.5v2.5M257.49 720.4v-2.5M257.49 523.5v2.5M269.33 720.4v-2.5M269.33 523.5v2.5M281.17 720.4v-2.5M281.17 523.5v2.5M293.02 720.4v-3.9M293.02 523.5v3.9M304.86 720.4v-2.5M304.86 523.5v2.5M316.7 720.4v-2.5M316.7 523.5v2.5M328.54 720.4v-2.5M328.54 523.5v2.5M340.39 720.4v-2.5M340.39 523.5v2.5M352.23 720.4v-3.9M352.23 523.5v3.9M364.07 720.4v-2.5M364.07 523.5v2.5M375.91 720.4v-2.5M375.91 523.5v2.5M67.15 716.4h2.5M385.5 716.4h-2.5M67.15 707.95h2.5M385.5 707.95h-2.5M67.15 699.5h3.9M385.5 699.5h-3.9M67.15 691.05h2.5M385.5 691.05h-2.5M67.15 682.6h2.5M385.5 682.6h-2.5M67.15 674.15h2.5M385.5 674.15h-2.5M67.15 665.7h2.5M385.5 665.7h-2.5M67.15 657.25h3.9M385.5 657.25h-3.9M67.15 648.8h2.5M385.5 648.8h-2.5M67.15 640.35h2.5M385.5 640.35h-2.5M67.15 631.9h2.5M385.5 631.9h-2.5M67.15 623.45h2.5M385.5 623.45h-2.5M67.15 615h3.9M385.5 615h-3.9M67.15 606.55h2.5M385.5 606.55h-2.5M67.15 598.1h2.5M385.5 598.1h-2.5M67.15 589.65h2.5M385.5 589.65h-2.5M67.15 581.2h2.5M385.5 581.2h-2.5M67.15 572.75h3.9M385.5 572.75h-3.9M67.15 564.3h2.5M385.5 564.3h-2.5M67.15 555.85h2.5M385.5 555.85h-2.5M67.15 547.4h2.5M385.5 547.4h-2.5M67.15 538.95h2.5M385.5 538.95h-2.5M67.15 530.5h3.9M385.5 530.5h-3.9" stroke="#444" stroke-width="0.9" fill="none"/>
<path d="M99.94 532.9 101 537.46 102 541.53 103 545.49 104 549.34 105 553.08 106 556.71 107 560.25 108 563.69 109 567.03 110 570.29 111 573.45 112 576.53 113 579.52 114 582.44 115 585.27 116 588.03 117 590.71 118 593.33 119 595.87 120 598.34 121 600.75 122 603.1 123 605.38 124 607.61 125 609.78 126 611.89 127 613.94 128 615.95 129 617.9 130 619.8 131 621.66 132 623.47 133 625.23 134 626.95 135 628.63 136 630.27 137 631.87 138 633.43 139 634.95 140 636.43 141 637.88 142 639.3 143 640.68 144 642.03 145 643.35 146 644.63 147 645.89 148 647.11 149 648.31 150 649.48 151 650.62 152 651.74 153 652.82 154 653.89 155 654.92 156 655.93 157 656.92 158 657.89 159 658.83 160 659.75 161 660.64 162 661.52 163 662.37 164 663.2 165 664.01 166 664.81 167 665.58 168 666.33 169 667.07 170 667.79 171 668.49 172 669.17 173 669.83 174 670.48 175 671.12 176 671.74 177 672.34 178 672.93 179 673.5 180 674.06 181 674.61 182 675.14 183 675.66 184 676.17 185 676.66 186 677.14 187 677.61 188 678.07 189 678.52 190 678.96 191 679.39 192 679.81 193 680.21 194 680.61 195 681 196 681.38 197 681.75 198 682.11 199 682.46 200 682.8 201 683.14 202 683.47 203 683.79 204 684.1 205 684.41 206 684.71 207 685 208 685.29 209 685.57 210 685.84 211 686.11 212 686.37 213 686.62 214 686.87 215 687.12 216 687.36 217 687.59 218 687.82 219 688.05 220 688.27 221 688.48 222 688.7 223 688.9 224 689.11 225 689.31 226 689.5 227 689.69 228 689.88 229 690.06 230 690.24 231 690.42 232 690.6 233 690.77 234 690.93 235 691.1 236 691.26 237 691.42 238 691.57 239 691.73 240 691.88 241 692.03 242 692.17 243 692.31 244 692.45 245 692.59 246 692.73 247 692.86 248 692.99 249 693.12 250 693.24 251 693.37 252 693.49 253 693.61 254 693.73 255 693.84 256 693.95 257 694.07 258 694.17 259 694.28 260 694.38 261 694.49 262 694.59 263 694.68 264 694.78 265 694.87 266 694.97 267 695.06 268 695.14 269 695.23 270 695.31 271 695.39 272 695.47 273 695.55 274 695.63 275 695.7 276 695.78 277 695.85 278 695.92 279 695.98 280 696.05 281 696.11 282 696.18 283 696.24 284 696.3 285 696.36 286 696.42 287 696.47 288 696.53 289 696.58 290 696.63 291 696.68 292 696.73 293 696.78 294 696.83 295 696.88 296 696.92 297 696.97 298 697.01 299 697.05 300 697.09 301 697.13 302 697.17 303 697.21 304 697.25 305 697.29 306 697.33 307 697.36 308 697.4 309 697.43 310 697.47 311 697.5 312 697.53 313 697.56 314 697.59 315 697.62 316 697.65 317 697.68 318 697.71 319 697.74 320 697.77 321 697.79 322 697.82 323 697.85 324 697.87 325 697.89 326 697.92 327 697.94 328 697.96 329 697.99 330 698.01 331 698.03 332 698.05 333 698.07 334 698.09 335 698.11 336 698.13 337 698.15 338 698.17 339 698.18 340 698.2 341 698.22 342 698.23 343 698.25 344 698.27 345 698.28 346 698.3 347 698.31 348 698.32 349 698.34 350 698.35 351 698.36 352 698.37 353 698.39 354 698.4 355 698.41 356 698.42 357 698.43 358 698.44 359 698.45 360 698.45 361 698.46 362 698.47 363 698.48 364 698.49 365 698.49 366 698.5 367 698.51 368 698.52 369 698.52 370 698.53 371 698.53 372 698.54 373 698.55 374 698.55 375 698.56 376 698.57 377 698.57 378 698.58 379 698.58 379.06 698.59" stroke="#ff8000" stroke-width="1.7" fill="none" stroke-linejoin="round"/>
<path d="M225.27 532.9 226 534.42 227 536.41 228 538.37 229 540.3 230 542.21 231 544.1 232 545.95 233 547.79 234 549.6 235 551.38 236 553.14 237 554.88 238 556.59 239 558.28 240 559.94 241 561.59 242 563.21 243 564.81 244 566.39 245 567.94 246 569.48 247 570.99 248 572.49 249 573.96 250 575.42 251 576.85 252 578.26 253 579.66 254 581.04 255 582.4 256 583.74 257 585.06 258 586.36 259 587.65 260 588.92 261 590.18 262 591.41 263 592.64 264 593.84 265 595.03 266 596.21 267 597.37 268 598.51 269 599.64 270 600.76 271 601.86 272 602.95 273 604.03 274 605.09 275 606.14 276 607.18 277 608.2 278 609.21 279 610.21 280 611.2 281 612.18 282 613.14 283 614.1 284 615.04 285 615.97 286 616.89 287 617.8 288 618.71 289 619.6 290 620.48 291 621.35 292 622.21 293 623.06 294 623.9 295 624.74 296 625.56 297 626.38 298 627.19 299 627.99 300 628.78 301 629.56 302 630.33 303 631.1 304 631.86 305 632.61 306 633.35 307 634.08 308 634.81 309 635.52 310 636.23 311 636.93 312 637.63 313 638.31 314 638.99 315 639.66 316 640.32 317 640.97 318 641.62 319 642.26 320 642.89 321 643.51 322 644.12 323 644.73 324 645.33 325 645.92 326 646.51 327 647.08 328 647.65 329 648.22 330 648.77 331 649.32 332 649.86 333 650.4 334 650.92 335 651.44 336 651.96 337 652.46 338 652.96 339 653.46 340 653.94 341 654.42 342 654.9 343 655.36 344 655.83 345 656.28 346 656.73 347 657.17 348 657.61 349 658.04 350 658.47 351 658.89 352 659.3 353 659.71 354 660.12 355 660.52 356 660.91 357 661.3 358 661.69 359 662.07 360 662.45 361 662.82 362 663.19 363 663.55 364 663.91 365 664.26 366 664.62 367 664.96 368 665.31 369 665.65 370 665.99 371 666.32 372 666.65 373 666.98 374 667.3 375 667.62 376 667.94 377 668.25 378 668.56 379 668.87 379.06 668.89" stroke="#0000ff" stroke-width="1.7" fill="none" stroke-linejoin="round"/>
<path d="M67.15 699.5H385.5" stroke="#000" stroke-opacity="0.72" stroke-width="1.1" fill="none"/>
<path d="M73.49 699.5v-0.01M81.13 699.5v-0.01M88.77 699.5v-0.01M96.41 699.5v-0.01M104.04 699.5v-0.01M111.68 699.5v-0.01M119.32 699.5v-0.01M126.96 699.5v-0.01M134.6 699.5v-0.01M142.24 699.5v-0.01M149.88 699.5v-0.01M157.52 699.5v-0.01M165.16 699.48v-0.01M172.8 699.44v-0.01M180.44 699.39v-0.01M188.08 699.34v-0.01M195.72 699.3v-0.01M203.36 699.25v-0.01M211 699.21v-0.01M218.64 699.16v-0.01M226.28 699.11v-0.01M233.91 699.07v-0.02M241.55 699.02v-0.03M249.19 698.98v-0.05M256.83 698.93v-0.07M264.47 698.88v-0.09M272.11 698.84v-0.11M279.75 698.79v-0.14M287.39 698.75v-0.16M295.03 698.7v-0.19M302.67 698.65v-0.21M310.31 698.61v-0.24M317.95 698.56v-0.26M325.59 698.52v-0.29M333.23 698.5v-0.32M340.87 698.5v-0.35M348.51 698.5v-0.38M356.15 698.5v-0.41M363.78 698.5v-0.44M371.42 698.5v-0.47M379.06 698.5v-0.5" stroke="#ff0000" stroke-width="3.3" stroke-linecap="round" fill="none"/>
<path d="M67.15 699.5H385.5" stroke="#000" stroke-opacity="0.4" stroke-width="1.1" fill="none"/>
<rect x="67.15" y="523.5" width="318.35" height="196.9" fill="none" stroke="#4d4d4d" stroke-width="1.15"/>
<text x="64.25" y="704" font-size="14.2" text-anchor="end">0.00</text>
<text x="64.25" y="662" font-size="14.2" text-anchor="end">0.01</text>
<text x="64.25" y="620" font-size="14.2" text-anchor="end">0.02</text>
<text x="64.25" y="578" font-size="14.2" text-anchor="end">0.03</text>
<text x="64.25" y="536" font-size="14.2" text-anchor="end">0.04</text>
<text x="115.37" y="737.1" font-size="14.2" text-anchor="middle">1.0</text>
<text x="174.59" y="737.1" font-size="14.2" text-anchor="middle">1.5</text>
<text x="233.8" y="737.1" font-size="14.2" text-anchor="middle">2.0</text>
<text x="293.02" y="737.1" font-size="14.2" text-anchor="middle">2.5</text>
<text x="352.23" y="737.1" font-size="14.2" text-anchor="middle">3.0</text>
<text x="226.32" y="760" font-size="14.2" text-anchor="middle">mL</text>
<g transform="translate(26.22 622.25) rotate(-90)"><text x="-14.52" y="0" font-size="14.2">E<tspan font-size="10" dy="1.9">|01&gt;</tspan></text></g>
</g>
<g>
<path d="M494.41 720.4v-2.5M494.41 522.5v2.5M506.31 720.4v-2.5M506.31 522.5v2.5M518.21 720.4v-2.5M518.21 522.5v2.5M530.11 720.4v-2.5M530.11 522.5v2.5M542.02 720.4v-3.9M542.02 522.5v3.9M553.92 720.4v-2.5M553.92 522.5v2.5M565.82 720.4v-2.5M565.82 522.5v2.5M577.72 720.4v-2.5M577.72 522.5v2.5M589.62 720.4v-2.5M589.62 522.5v2.5M601.53 720.4v-3.9M601.53 522.5v3.9M613.43 720.4v-2.5M613.43 522.5v2.5M625.33 720.4v-2.5M625.33 522.5v2.5M637.23 720.4v-2.5M637.23 522.5v2.5M649.14 720.4v-2.5M649.14 522.5v2.5M661.04 720.4v-3.9M661.04 522.5v3.9M672.94 720.4v-2.5M672.94 522.5v2.5M684.84 720.4v-2.5M684.84 522.5v2.5M696.75 720.4v-2.5M696.75 522.5v2.5M708.65 720.4v-2.5M708.65 522.5v2.5M720.55 720.4v-3.9M720.55 522.5v3.9M732.45 720.4v-2.5M732.45 522.5v2.5M744.35 720.4v-2.5M744.35 522.5v2.5M756.26 720.4v-2.5M756.26 522.5v2.5M768.16 720.4v-2.5M768.16 522.5v2.5M780.06 720.4v-3.9M780.06 522.5v3.9M791.96 720.4v-2.5M791.96 522.5v2.5M803.87 720.4v-2.5M803.87 522.5v2.5M493.55 720.55h3.9M813.5 720.55h-3.9M493.55 715.54h2.5M813.5 715.54h-2.5M493.55 710.53h2.5M813.5 710.53h-2.5M493.55 705.52h2.5M813.5 705.52h-2.5M493.55 700.51h2.5M813.5 700.51h-2.5M493.55 695.5h3.9M813.5 695.5h-3.9M493.55 690.49h2.5M813.5 690.49h-2.5M493.55 685.48h2.5M813.5 685.48h-2.5M493.55 680.47h2.5M813.5 680.47h-2.5M493.55 675.46h2.5M813.5 675.46h-2.5M493.55 670.45h3.9M813.5 670.45h-3.9M493.55 665.44h2.5M813.5 665.44h-2.5M493.55 660.43h2.5M813.5 660.43h-2.5M493.55 655.42h2.5M813.5 655.42h-2.5M493.55 650.41h2.5M813.5 650.41h-2.5M493.55 645.4h3.9M813.5 645.4h-3.9M493.55 640.39h2.5M813.5 640.39h-2.5M493.55 635.38h2.5M813.5 635.38h-2.5M493.55 630.37h2.5M813.5 630.37h-2.5M493.55 625.36h2.5M813.5 625.36h-2.5M493.55 620.35h3.9M813.5 620.35h-3.9M493.55 615.34h2.5M813.5 615.34h-2.5M493.55 610.33h2.5M813.5 610.33h-2.5M493.55 605.32h2.5M813.5 605.32h-2.5M493.55 600.31h2.5M813.5 600.31h-2.5M493.55 595.3h3.9M813.5 595.3h-3.9M493.55 590.29h2.5M813.5 590.29h-2.5M493.55 585.28h2.5M813.5 585.28h-2.5M493.55 580.27h2.5M813.5 580.27h-2.5M493.55 575.26h2.5M813.5 575.26h-2.5M493.55 570.25h3.9M813.5 570.25h-3.9M493.55 565.24h2.5M813.5 565.24h-2.5M493.55 560.23h2.5M813.5 560.23h-2.5M493.55 555.22h2.5M813.5 555.22h-2.5M493.55 550.21h2.5M813.5 550.21h-2.5M493.55 545.2h3.9M813.5 545.2h-3.9M493.55 540.19h2.5M813.5 540.19h-2.5M493.55 535.18h2.5M813.5 535.18h-2.5M493.55 530.17h2.5M813.5 530.17h-2.5M493.55 525.16h2.5M813.5 525.16h-2.5" stroke="#444" stroke-width="0.9" fill="none"/>
<path d="M520.01 531.6 521 536.01 522 540.24 523 544.33 524 548.29 525 552.13 526 555.85 527 559.46 528 562.96 529 566.35 530 569.64 531 572.83 532 575.93 533 578.94 534 581.85 535 584.69 536 587.44 537 590.11 538 592.7 539 595.22 540 597.67 541 600.05 542 602.36 543 604.61 544 606.79 545 608.92 546 610.98 547 613 548 614.95 549 616.86 550 618.71 551 620.52 552 622.27 553 623.99 554 625.65 555 627.28 556 628.86 557 630.4 558 631.91 559 633.38 560 634.81 561 636.2 562 637.56 563 638.89 564 640.18 565 641.44 566 642.68 567 643.88 568 645.05 569 646.19 570 647.31 571 648.4 572 649.46 573 650.5 574 651.51 575 652.5 576 653.46 577 654.41 578 655.32 579 656.22 580 657.09 581 657.94 582 658.78 583 659.59 584 660.38 585 661.15 586 661.91 587 662.64 588 663.36 589 664.06 590 664.74 591 665.41 592 666.06 593 666.69 594 667.31 595 667.92 596 668.51 597 669.08 598 669.65 599 670.19 600 670.73 601 671.25 602 671.76 603 672.26 604 672.75 605 673.22 606 673.68 607 674.14 608 674.58 609 675.01 610 675.43 611 675.84 612 676.25 613 676.64 614 677.02 615 677.4 616 677.77 617 678.13 618 678.48 619 678.82 620 679.15 621 679.48 622 679.8 623 680.11 624 680.42 625 680.72 626 681.01 627 681.3 628 681.58 629 681.85 630 682.12 631 682.39 632 682.64 633 682.89 634 683.14 635 683.38 636 683.62 637 683.85 638 684.08 639 684.3 640 684.52 641 684.73 642 684.94 643 685.15 644 685.35 645 685.55 646 685.74 647 685.93 648 686.12 649 686.3 650 686.48 651 686.66 652 686.83 653 687 654 687.16 655 687.33 656 687.49 657 687.64 658 687.8 659 687.95 660 688.1 661 688.24 662 688.39 663 688.53 664 688.66 665 688.8 666 688.93 667 689.06 668 689.19 669 689.31 670 689.43 671 689.55 672 689.67 673 689.79 674 689.9 675 690.01 676 690.12 677 690.22 678 690.32 679 690.42 680 690.52 681 690.62 682 690.71 683 690.81 684 690.9 685 690.98 686 691.07 687 691.15 688 691.24 689 691.32 690 691.39 691 691.47 692 691.55 693 691.62 694 691.69 695 691.76 696 691.83 697 691.89 698 691.96 699 692.02 700 692.08 701 692.15 702 692.2 703 692.26 704 692.32 705 692.37 706 692.43 707 692.48 708 692.53 709 692.58 710 692.63 711 692.68 712 692.72 713 692.77 714 692.81 715 692.86 716 692.9 717 692.94 718 692.98 719 693.02 720 693.06 721 693.1 722 693.13 723 693.17 724 693.2 725 693.24 726 693.27 727 693.3 728 693.33 729 693.36 730 693.4 731 693.42 732 693.45 733 693.48 734 693.51 735 693.54 736 693.56 737 693.59 738 693.61 739 693.64 740 693.66 741 693.69 742 693.71 743 693.73 744 693.75 745 693.78 746 693.8 747 693.82 748 693.84 749 693.86 750 693.88 751 693.9 752 693.92 753 693.94 754 693.95 755 693.97 756 693.99 757 694.01 758 694.03 759 694.04 760 694.06 761 694.08 762 694.09 763 694.11 764 694.12 765 694.14 766 694.15 767 694.17 768 694.18 769 694.2 770 694.21 771 694.23 772 694.24 773 694.26 774 694.27 775 694.29 776 694.3 777 694.32 778 694.33 779 694.34 780 694.36 781 694.37 782 694.39 783 694.4 784 694.41 785 694.43 786 694.44 787 694.46 788 694.47 789 694.48 790 694.5 791 694.51 792 694.52 793 694.54 794 694.55 795 694.56 796 694.57 797 694.58 798 694.6 799 694.61 800 694.62 801 694.63 802 694.64 803 694.65 804 694.66 805 694.67 806 694.67 807 694.68 807.03 694.68" stroke="#ff8000" stroke-width="1.7" fill="none" stroke-linejoin="round"/>
<path d="M651.94 531.6 653 533.89 654 535.86 655 537.8 656 539.71 657 541.59 658 543.45 659 545.29 660 547.1 661 548.88 662 550.64 663 552.37 664 554.08 665 555.76 666 557.42 667 559.06 668 560.68 669 562.27 670 563.84 671 565.39 672 566.91 673 568.42 674 569.9 675 571.37 676 572.81 677 574.23 678 575.64 679 577.02 680 578.39 681 579.74 682 581.07 683 582.38 684 583.68 685 584.96 686 586.22 687 587.46 688 588.69 689 589.91 690 591.1 691 592.29 692 593.46 693 594.61 694 595.75 695 596.87 696 597.99 697 599.08 698 600.17 699 601.24 700 602.3 701 603.35 702 604.38 703 605.4 704 606.42 705 607.41 706 608.4 707 609.38 708 610.35 709 611.3 710 612.25 711 613.18 712 614.1 713 615.02 714 615.92 715 616.82 716 617.7 717 618.58 718 619.44 719 620.3 720 621.15 721 621.99 722 622.82 723 623.64 724 624.45 725 625.26 726 626.05 727 626.84 728 627.62 729 628.39 730 629.15 731 629.9 732 630.64 733 631.38 734 632.11 735 632.82 736 633.53 737 634.23 738 634.92 739 635.6 740 636.28 741 636.94 742 637.6 743 638.25 744 638.88 745 639.52 746 640.14 747 640.75 748 641.35 749 641.95 750 642.54 751 643.12 752 643.69 753 644.25 754 644.81 755 645.36 756 645.9 757 646.43 758 646.96 759 647.47 760 647.98 761 648.49 762 648.99 763 649.48 764 649.96 765 650.44 766 650.91 767 651.37 768 651.83 769 652.28 770 652.72 771 653.16 772 653.6 773 654.02 774 654.45 775 654.86 776 655.28 777 655.68 778 656.08 779 656.48 780 656.87 781 657.26 782 657.64 783 658.02 784 658.39 785 658.76 786 659.13 787 659.49 788 659.84 789 660.2 790 660.55 791 660.89 792 661.23 793 661.57 794 661.9 795 662.23 796 662.56 797 662.89 798 663.21 799 663.52 800 663.84 801 664.15 802 664.46 803 664.76 804 665.06 805 665.36 806 665.66 807 665.95 807.03 665.96" stroke="#0000ff" stroke-width="1.7" fill="none" stroke-linejoin="round"/>
<path d="M493.55 695.5H813.5" stroke="#000" stroke-opacity="0.72" stroke-width="1.1" fill="none"/>
<path d="M499.92 695.5v-0.01M507.6 695.5v-0.01M515.27 695.5v-0.01M522.95 695.5v-0.01M530.63 695.5v-0.01M538.31 695.5v-0.01M545.99 695.5v-0.01M553.66 695.5v-0.01M561.34 695.5v-0.01M569.02 695.5v-0.01M576.7 695.5v-0.01M584.37 695.5v-0.01M592.05 695.47v-0.01M599.73 695.39v-0.01M607.41 695.31v-0.01M615.09 695.24v-0.01M622.76 695.16v-0.01M630.44 695.08v-0.01M638.12 695v-0.01M645.8 694.92v-0.01M653.48 694.84v-0.01M661.15 694.77v-0.04M668.83 694.69v-0.08M676.51 694.61v-0.13M684.19 694.53v-0.17M691.86 694.45v-0.22M699.54 694.37v-0.27M707.22 694.3v-0.33M714.9 694.22v-0.39M722.58 694.14v-0.45M730.25 694.06v-0.51M737.93 693.98v-0.57M745.61 693.9v-0.63M753.29 693.83v-0.7M760.96 693.8v-0.77M768.64 693.8v-0.84M776.32 693.8v-0.91M784 693.8v-0.98M791.68 693.8v-1.05M799.35 693.8v-1.12M807.03 693.8v-1.2" stroke="#ff0000" stroke-width="3.3" stroke-linecap="round" fill="none"/>
<path d="M493.55 695.5H813.5" stroke="#000" stroke-opacity="0.4" stroke-width="1.1" fill="none"/>
<rect x="493.55" y="522.5" width="319.95" height="197.9" fill="none" stroke="#4d4d4d" stroke-width="1.15"/>
<text x="490.65" y="726" font-size="14.2" text-anchor="end">0.005</text>
<text x="454.22" y="726" font-size="14.2" text-anchor="end">−</text>
<text x="490.65" y="700" font-size="14.2" text-anchor="end">0.000</text>
<text x="490.65" y="675" font-size="14.2" text-anchor="end">0.005</text>
<text x="490.65" y="650" font-size="14.2" text-anchor="end">0.010</text>
<text x="490.65" y="625" font-size="14.2" text-anchor="end">0.015</text>
<text x="490.65" y="600" font-size="14.2" text-anchor="end">0.020</text>
<text x="490.65" y="575" font-size="14.2" text-anchor="end">0.025</text>
<text x="490.65" y="550" font-size="14.2" text-anchor="end">0.030</text>
<text x="542.02" y="737.1" font-size="14.2" text-anchor="middle">1.0</text>
<text x="601.53" y="737.1" font-size="14.2" text-anchor="middle">1.5</text>
<text x="661.04" y="737.1" font-size="14.2" text-anchor="middle">2.0</text>
<text x="720.55" y="737.1" font-size="14.2" text-anchor="middle">2.5</text>
<text x="780.06" y="737.1" font-size="14.2" text-anchor="middle">3.0</text>
<text x="653.52" y="760" font-size="14.2" text-anchor="middle">mL</text>
<g transform="translate(435.23 621.75) rotate(-90)"><text x="-17.3" y="0" font-size="14.2">E<tspan font-size="10" dy="1.9">|001&gt;</tspan></text></g>
</g>
</svg></body></html>
